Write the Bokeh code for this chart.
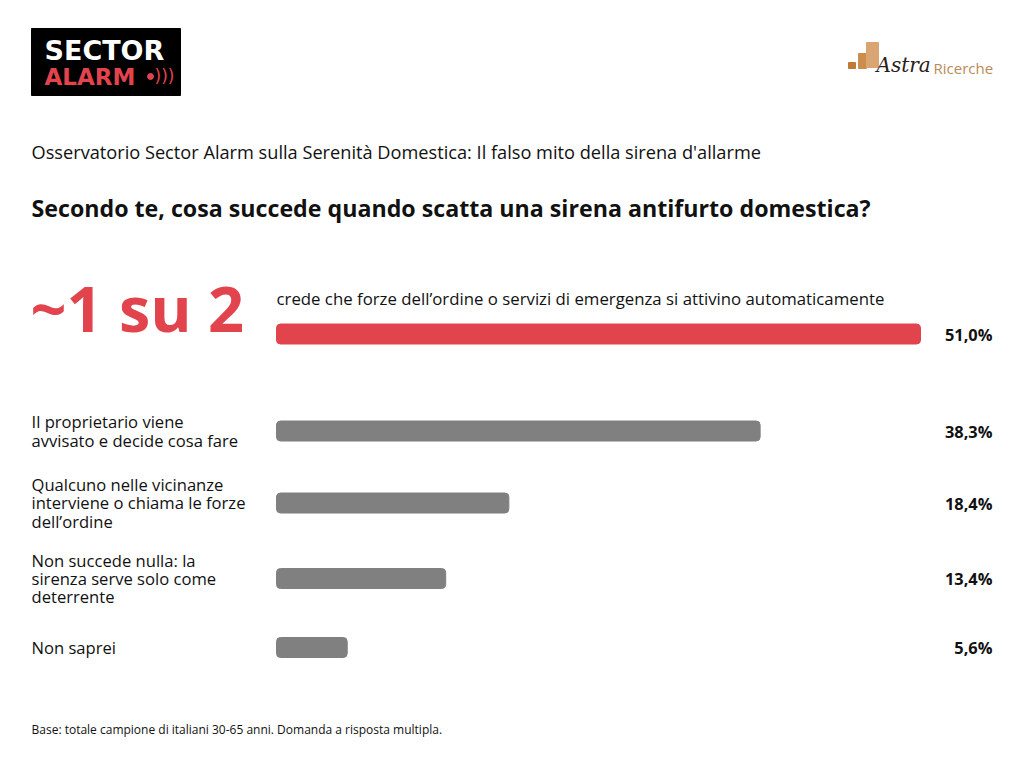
from bokeh.plotting import figure
from bokeh.models import Range1d, ColumnDataSource
from bokeh.core.properties import value
from bokeh.embed import file_html
from bokeh.resources import INLINE

# ---- data ----
categories = [
    "crede che forze dell\u2019ordine o servizi di emergenza si attivino automaticamente",
    "Il proprietario viene\navvisato e decide cosa fare",
    "Qualcuno nelle vicinanze\ninterviene o chiama le forze\ndell\u2019ordine",
    "Non succede nulla: la\nsirenza serve solo come\ndeterrente",
    "Non saprei",
]
values = [51.0, 38.3, 18.4, 13.4, 5.6]
value_labels = ["51,0%", "38,3%", "18,4%", "13,4%", "5,6%"]
highlight = "~1 su 2"
subtitle = "Osservatorio Sector Alarm sulla Serenit\u00e0 Domestica: Il falso mito della sirena d'allarme"
title = "Secondo te, cosa succede quando scatta una sirena antifurto domestica?"
footer = "Base: totale campione di italiani 30-65 anni. Domanda a risposta multipla."

# ---- layout (pixel coordinates inside the figure) ----
W, H = 1008, 752
row_y = [333.5, 430.5, 502.5, 578, 647]
bar_x0_px, bar_max_px = 276, 920
bar_h = 20
RED = "#E2444E"
GREY = "#808080"
INK = "#111111"
FONT = "Open Sans"

p = figure(width=W, height=H, output_backend="svg", toolbar_location=None,
           x_range=Range1d(0, W), y_range=Range1d(H, 0),
           x_axis_location=None, y_axis_location=None, min_border=0,
           outline_line_color=None, background_fill_color="white",
           border_fill_color="white")
p.grid.visible = False

# percentage scale for bars: 0 -> bar_x0_px, max(values) -> bar_max_px
span = max(values) * W / (bar_max_px - bar_x0_px)
start = -bar_x0_px * span / W
p.extra_x_ranges = {"pct": Range1d(start, start + span)}

colors = [RED] + [GREY] * (len(values) - 1)
src = ColumnDataSource(dict(y=row_y, v=values, c=colors, lab=value_labels))
p.hbar(y="y", left=0, right="v", height=bar_h, color="c", source=src,
       x_range_name="pct", border_radius=4)

# value labels
p.text(x=992, y="y", text="lab", source=src, text_align="right",
       text_baseline="middle", text_font=value(FONT), text_font_style="bold",
       text_font_size="16.4px", text_color=INK)

# category labels
p.text(x=[276], y=[298], text=[categories[0]], text_baseline="middle",
       text_font=value(FONT), text_font_size="16.8px", text_color=INK)
p.text(x=[31] * 4, y=row_y[1:], text=categories[1:], text_baseline="middle",
       text_font=value(FONT), text_font_size="16.6px", text_color=INK,
       text_line_height=0.8)

# highlight
p.text(x=[30], y=[307], text=[highlight], text_baseline="middle",
       text_font=value(FONT), text_font_style="bold", text_font_size="63px",
       text_color=RED)

# titles
p.text(x=[31], y=[151], text=[subtitle], text_baseline="middle",
       text_font=value(FONT), text_font_size="18.2px", text_color=INK)
p.text(x=[31], y=[207], text=[title], text_baseline="middle",
       text_font=value(FONT), text_font_style="bold", text_font_size="23.2px",
       text_color=INK)
p.text(x=[31], y=[729], text=[footer], text_baseline="middle",
       text_font=value(FONT), text_font_size="12px", text_color=INK)

# Sector Alarm logo
p.quad(left=[31], right=[180], top=[28], bottom=[95], color="black")
p.text(x=[44], y=[50], text=["SECTOR"], text_baseline="middle",
       text_font=value("DejaVu Sans"), text_font_style="bold",
       text_font_size="27px", text_color="white")
p.text(x=[44], y=[76], text=["ALARM"], text_baseline="middle",
       text_font=value("DejaVu Sans"), text_font_style="bold",
       text_font_size="23px", text_color=RED)
p.scatter(x=[150], y=[76], size=6, color=RED)
p.text(x=[154], y=[75], text=[")))"], text_baseline="middle",
       text_font=value("DejaVu Sans"), text_font_size="17px", text_color=RED)

# AstraRicerche logo
p.quad(left=[848, 858, 866], right=[855, 866, 878], top=[62, 53, 42],
       bottom=[68, 68, 67], color=["#C07A35", "#CC8C4C", "#D9A673"])
p.text(x=[876], y=[64], text=["Astra"], text_baseline="middle",
       text_font=value("DejaVu Serif"), text_font_style="italic",
       text_font_size="20px", text_color="#2a2018")
p.text(x=[933], y=[67], text=["Ricerche"], text_baseline="middle",
       text_font=value(FONT), text_font_size="15px", text_color="#B98A5A")

open("out.html", "w").write(file_html(p, INLINE))
